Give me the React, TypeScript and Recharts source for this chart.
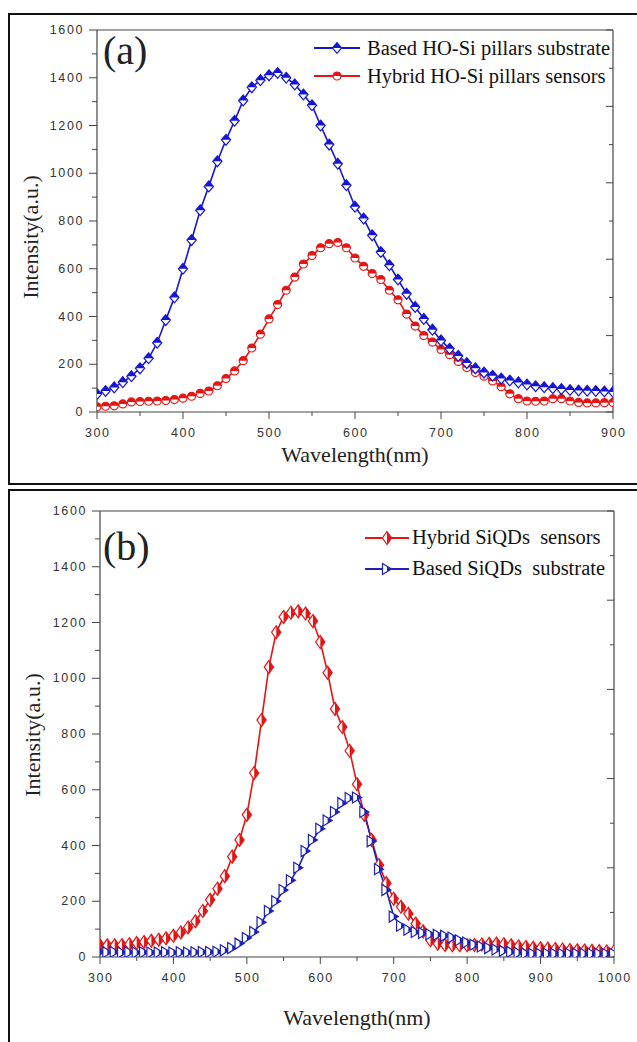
import React from "react";
import { LineChart, Line, XAxis, YAxis, Legend } from "recharts";

// ---- panel (a) ----
const wavelengthA = [
  300, 310, 320, 330, 340, 350, 360, 370, 380, 390,
  400, 410, 420, 430, 440, 450, 460, 470, 480, 490,
  500, 510, 520, 530, 540, 550, 560, 570, 580, 590,
  600, 610, 620, 630, 640, 650, 660, 670, 680, 690,
  700, 710, 720, 730, 740, 750, 760, 770, 780, 790,
  800, 810, 820, 830, 840, 850, 860, 870, 880, 890,
  900,
];
const basedPillars = [
  75, 88, 103, 125, 150, 183, 225, 290, 385, 480,
  600, 720, 845, 945, 1050, 1140, 1220, 1305, 1360, 1390,
  1410, 1420, 1400, 1372, 1330, 1285, 1200, 1120, 1040, 950,
  860, 810, 740, 670, 615, 555, 495, 440, 390, 345,
  300, 265, 235, 205, 183, 165, 152, 140, 132, 124,
  115, 108, 104, 100, 96, 92, 90, 89, 88, 86,
  84,
];
const hybridPillars = [
  22, 24, 26, 34, 42, 44, 45, 46, 48, 52,
  58, 66, 78, 88, 110, 140, 172, 215, 268, 326,
  390, 450, 510, 565, 620, 655, 688, 705, 710, 688,
  645, 610, 580, 555, 510, 470, 410, 360, 320, 293,
  262, 240, 212, 186, 165, 150, 130, 106, 76, 56,
  46, 45, 46, 55, 56, 46, 40, 38, 38, 39,
  40,
];
const xTicksA = [300, 350, 400, 450, 500, 550, 600, 650, 700, 750, 800, 850, 900];
const topTicksA = [300, 360, 420, 480, 540, 600, 660, 720, 780, 840, 900];

// ---- panel (b) ----
const wavelengthB = [
  300, 310, 320, 330, 340, 350, 360, 370, 380, 390,
  400, 410, 420, 430, 440, 450, 460, 470, 480, 490,
  500, 510, 520, 530, 540, 550, 560, 570, 580, 590,
  600, 610, 620, 630, 640, 650, 660, 670, 680, 690,
  700, 710, 720, 730, 740, 750, 760, 770, 780, 790,
  800, 810, 820, 830, 840, 850, 860, 870, 880, 890,
  900, 910, 920, 930, 940, 950, 960, 970, 980, 990,
  1000,
];
const hybridQDs = [
  42, 42, 42, 43, 46, 50, 54, 58, 62, 67,
  76, 88, 106, 128, 165, 205, 245, 290, 360, 420,
  510, 660, 850, 1040, 1165, 1220, 1235, 1240, 1232, 1205,
  1130, 1020, 890, 825, 740, 620, 510, 420, 330, 265,
  209, 180, 155, 120, 92, 60, 48, 43, 42, 42,
  42, 43, 45, 47, 48, 46, 42, 38, 36, 33,
  31, 30, 29, 27, 25, 24, 23, 22, 21, 20,
  20,
];
const basedQDs = [
  18, 17, 18, 16, 17, 16, 17, 16, 16, 17,
  16, 17, 16, 17, 18, 18, 19, 24, 32, 48,
  68, 90, 125, 165, 200, 240, 275, 320, 380, 420,
  460, 490, 520, 552, 570, 572, 520, 415, 315, 240,
  145, 112, 98, 90, 86, 82, 80, 76, 70, 60,
  52, 44, 38, 32, 27, 22, 18, 15, 13, 12,
  12, 12, 12, 12, 12, 12, 12, 12, 12, 12,
  12,
];
const xTicksB = [300, 350, 400, 450, 500, 550, 600, 650, 700, 750, 800, 850, 900, 950, 1000];
const topTicksB = [300, 370, 440, 510, 580, 650, 720, 790, 860, 930, 1000];

const yTicks = [0, 100, 200, 300, 400, 500, 600, 700, 800, 900, 1000, 1100, 1200, 1300, 1400, 1500, 1600];
const rightTicks = [0, 160, 320, 480, 640, 800, 960, 1120, 1280, 1440, 1600];

const BLUE = "#1616d0";
const RED = "#e41515";
const NAVY = "#1c22b8";
const AXIS = "#444";
const SERIF = "'Times New Roman', 'Liberation Serif', serif";
const SANS = "Arial, 'Liberation Sans', sans-serif";

const dataA = wavelengthA.map((nm, i) => ({ nm, based: basedPillars[i], hybrid: hybridPillars[i] }));
const dataB = wavelengthB.map((nm, i) => ({ nm, hybrid: hybridQDs[i], based: basedQDs[i] }));

type Shape = "diamondTop" | "circleTop" | "diamondRight" | "triRight";

function Marker({ cx, cy, shape, color }: { cx: number; cy: number; shape: Shape; color: string }) {
  if (cx == null || cy == null) return null;
  if (shape === "circleTop") {
    const r = 4;
    return (
      <g>
        <circle cx={cx} cy={cy} r={r} fill="#fff" stroke={color} strokeWidth={1.2} />
        <path d={`M${cx - r},${cy} A${r},${r} 0 0 1 ${cx + r},${cy} Z`} fill={color} />
      </g>
    );
  }
  if (shape === "diamondTop") {
    const w = 4.6, h = 5.4;
    return (
      <g>
        <path d={`M${cx},${cy - h} L${cx + w},${cy} L${cx},${cy + h} L${cx - w},${cy} Z`} fill="#fff" stroke={color} strokeWidth={1.2} />
        <path d={`M${cx},${cy - h} L${cx + w},${cy} L${cx - w},${cy} Z`} fill={color} />
      </g>
    );
  }
  if (shape === "diamondRight") {
    const w = 4.6, h = 6.5;
    return (
      <g>
        <path d={`M${cx},${cy - h} L${cx + w},${cy} L${cx},${cy + h} L${cx - w},${cy} Z`} fill="#fff" stroke={color} strokeWidth={1.2} />
        <path d={`M${cx},${cy - h} L${cx + w},${cy} L${cx},${cy + h} Z`} fill={color} />
      </g>
    );
  }
  const w = 4.5, h = 5.5;
  return (
    <g>
      <path d={`M${cx - w},${cy - h} L${cx + w},${cy} L${cx - w},${cy + h} Z`} fill="#fff" stroke={color} strokeWidth={1.2} />
      <path d={`M${cx},${cy - h / 2} L${cx + w},${cy} L${cx},${cy + h / 2} Z`} fill={color} />
    </g>
  );
}

const tickText = { fontFamily: SANS, fontSize: 12.5, fill: "#333", letterSpacing: 1.6 };

const BottomTick = (props: any) => {
  const { x, y, payload } = props;
  const major = payload.value % 100 === 0;
  return (
    <g>
      <line x1={x} y1={y} x2={x} y2={y + (major ? 7 : 4)} stroke={AXIS} strokeWidth={1} />
      {major && (
        <text x={x + 0.8} y={y + 21} textAnchor="middle" dominantBaseline="central" {...tickText}>
          {payload.value}
        </text>
      )}
    </g>
  );
};

const LeftTick = (props: any) => {
  const { x, y, payload } = props;
  const major = payload.value % 200 === 0;
  return (
    <g>
      <line x1={x} y1={y} x2={x - (major ? 8 : 5)} y2={y} stroke={AXIS} strokeWidth={1} />
      {major && (
        <text x={x - 13} y={y} textAnchor="end" dominantBaseline="central" {...tickText}>
          {payload.value}
        </text>
      )}
    </g>
  );
};

const TopTick = (props: any) => {
  const { x, y, index } = props;
  return <line x1={x} y1={y} x2={x} y2={y + (index % 2 === 0 ? 7 : 4)} stroke={AXIS} strokeWidth={1} />;
};

const RightTick = (props: any) => {
  const { x, y, index } = props;
  return <line x1={x} y1={y} x2={x - (index % 2 === 0 ? 7 : 4)} y2={y} stroke={AXIS} strokeWidth={1} />;
};

type SeriesDef = { key: string; name: string; color: string; shape: Shape };

function LegendBox({ items, lineW, gap, rowH }: { items: SeriesDef[]; lineW: number; gap: number; rowH: number }) {
  return (
    <div>
      {items.map((s) => (
        <div key={s.key} style={{ display: "flex", alignItems: "center", height: rowH }}>
          <svg width={lineW} height={16} style={{ display: "block" }}>
            <line x1={1} y1={8} x2={lineW - 1} y2={8} stroke={s.color} strokeWidth={2} />
            <Marker cx={lineW / 2} cy={8} shape={s.shape} color={s.color} />
          </svg>
          <span style={{ marginLeft: gap, fontFamily: SERIF, fontSize: 20.5, color: "#111", whiteSpace: "pre", lineHeight: 1 }}>
            {s.name}
          </span>
        </div>
      ))}
    </div>
  );
}

type PanelProps = {
  data: any[];
  series: SeriesDef[];
  legendItems: SeriesDef[];
  width: number;
  height: number;
  margin: { top: number; right: number; bottom: number; left: number };
  xDomain: [number, number];
  xTicks: number[];
  topTicks: number[];
  legendPos: { left: number; top: number };
  legendLineW: number;
  legendGap: number;
  legendRowH: number;
};

// axes are 1px thick so the plot box is set by the margins (a 0 size axis is not drawn)
function Panel(p: PanelProps) {
  const m = { top: p.margin.top - 1, right: p.margin.right - 1, bottom: p.margin.bottom - 1, left: p.margin.left - 1 };
  return (
    <LineChart width={p.width} height={p.height} data={p.data} margin={m}>
      <XAxis
        xAxisId="b"
        dataKey="nm"
        type="number"
        domain={p.xDomain}
        ticks={p.xTicks}
        interval={0}
        height={1}
        tickSize={0}
        tickMargin={0}
        tickLine={false}
        axisLine={{ stroke: AXIS, strokeWidth: 1.2 }}
        tick={<BottomTick />}
        allowDataOverflow
      />
      <XAxis
        xAxisId="t"
        orientation="top"
        type="number"
        domain={p.xDomain}
        ticks={p.topTicks}
        interval={0}
        height={1}
        tickSize={0}
        tickMargin={0}
        tickLine={false}
        axisLine={{ stroke: AXIS, strokeWidth: 1.2 }}
        tick={<TopTick />}
        allowDataOverflow
      />
      <YAxis
        yAxisId="l"
        type="number"
        domain={[0, 1600]}
        ticks={yTicks}
        interval={0}
        width={1}
        tickSize={0}
        tickMargin={0}
        tickLine={false}
        axisLine={{ stroke: AXIS, strokeWidth: 1.2 }}
        tick={<LeftTick />}
        allowDataOverflow
      />
      <YAxis
        yAxisId="r"
        orientation="right"
        type="number"
        domain={[0, 1600]}
        ticks={rightTicks}
        interval={0}
        width={1}
        tickSize={0}
        tickMargin={0}
        tickLine={false}
        axisLine={{ stroke: AXIS, strokeWidth: 1.2 }}
        tick={<RightTick />}
        allowDataOverflow
      />
      <Legend
        layout="vertical"
        align="center"
        verticalAlign="middle"
        wrapperStyle={{ left: p.legendPos.left, top: p.legendPos.top, width: 330 }}
        content={() => (
          <LegendBox items={p.legendItems} lineW={p.legendLineW} gap={p.legendGap} rowH={p.legendRowH} />
        )}
      />
      {p.series.map((s) => (
        <Line
          key={s.key}
          xAxisId="b"
          yAxisId="l"
          dataKey={s.key}
          name={s.name}
          type="linear"
          stroke={s.color}
          strokeWidth={1.6}
          isAnimationActive={false}
          dot={(d: any) => <Marker key={`${s.key}-${d.index}`} cx={d.cx} cy={d.cy} shape={s.shape} color={s.color} />}
          activeDot={false}
        />
      ))}
    </LineChart>
  );
}

const seriesA: SeriesDef[] = [
  { key: "hybrid", name: "Hybrid HO-Si pillars sensors", color: RED, shape: "circleTop" },
  { key: "based", name: "Based HO-Si pillars substrate", color: BLUE, shape: "diamondTop" },
];
const legendA: SeriesDef[] = [seriesA[1], seriesA[0]];

const seriesB: SeriesDef[] = [
  { key: "hybrid", name: "Hybrid SiQDs  sensors", color: RED, shape: "diamondRight" },
  { key: "based", name: "Based SiQDs  substrate", color: NAVY, shape: "triRight" },
];
const legendB: SeriesDef[] = seriesB;

const titleStyle: React.CSSProperties = {
  position: "absolute",
  fontFamily: SERIF,
  fontSize: 22,
  color: "#222",
  whiteSpace: "nowrap",
  lineHeight: 1,
};

export default function App() {
  return (
    <div style={{ position: "absolute", left: 0, top: 0, width: 637, height: 1042, background: "#fff", overflow: "hidden" }}>
      <div style={{ position: "absolute", left: 8, top: 13, width: 660, height: 472, border: "2px solid #111", boxSizing: "border-box" }} />
      <div style={{ position: "absolute", left: 8, top: 489, width: 660, height: 600, border: "2px solid #111", boxSizing: "border-box" }} />

      <div style={{ position: "absolute", left: 0, top: 0 }}>
        <Panel
          data={dataA}
          series={seriesA}
          legendItems={legendA}
          width={637}
          height={484}
          margin={{ top: 30, right: 24, bottom: 72, left: 97 }}
          xDomain={[300, 900]}
          xTicks={xTicksA}
          topTicks={topTicksA}
          legendPos={{ left: 313, top: 34 }}
          legendLineW={48}
          legendGap={6}
          legendRowH={28}
        />
      </div>
      <div style={{ position: "absolute", left: 0, top: 489 }}>
        <Panel
          data={dataB}
          series={seriesB}
          legendItems={legendB}
          width={637}
          height={553}
          margin={{ top: 22, right: 23, bottom: 85, left: 100 }}
          xDomain={[300, 1000]}
          xTicks={xTicksB}
          topTicks={topTicksB}
          legendPos={{ left: 364, top: 33 }}
          legendLineW={46}
          legendGap={2}
          legendRowH={31}
        />
      </div>

      <div style={{ ...titleStyle, fontSize: 40, left: 103, top: 31 }}>(a)</div>
      <div style={{ ...titleStyle, fontSize: 40, left: 103, top: 527 }}>(b)</div>

      <div style={{ ...titleStyle, left: 355, top: 455, transform: "translate(-50%, -50%)" }}>Wavelength(nm)</div>
      <div style={{ ...titleStyle, left: 31, top: 237, transform: "translate(-50%, -50%) rotate(-90deg)" }}>Intensity(a.u.)</div>
      <div style={{ ...titleStyle, left: 357, top: 1018, transform: "translate(-50%, -50%)" }}>Wavelength(nm)</div>
      <div style={{ ...titleStyle, left: 33, top: 735, transform: "translate(-50%, -50%) rotate(-90deg)" }}>Intensity(a.u.)</div>
    </div>
  );
}
